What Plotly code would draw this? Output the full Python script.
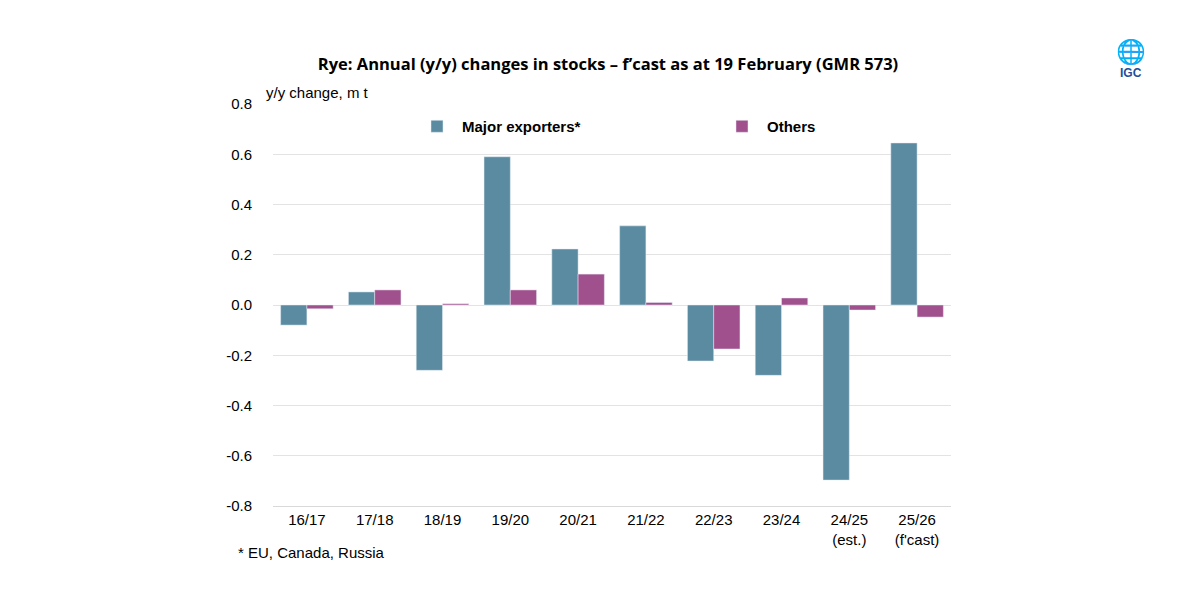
import plotly.graph_objects as go

categories = ["16/17", "17/18", "18/19", "19/20", "20/21", "21/22", "22/23", "23/24", "24/25<br>(est.)", "25/26<br>(f'cast)"]
major = [-0.08, 0.052, -0.26, 0.59, 0.223, 0.315, -0.223, -0.28, -0.697, 0.645]
others = [-0.015, 0.06, 0.005, 0.06, 0.123, 0.01, -0.175, 0.028, -0.02, -0.048]
ticks = [-0.8, -0.6, -0.4, -0.2, 0.0, 0.2, 0.4, 0.6, 0.8]
tick_text = ["-0.8", "-0.6", "-0.4", "-0.2", "0.0", "0.2", "0.4", "0.6", "0.8"]

fig = go.Figure()
fig.add_bar(x=categories, y=major, name="<b>Major exporters*</b>", marker_color="#5B8BA0")
fig.add_bar(x=categories, y=others, name="<b>Others</b>", marker_color="#A0508C")
fig.update_layout(
    width=1200, height=597, plot_bgcolor="white", paper_bgcolor="white",
    barmode="group", bargap=0.225, bargroupgap=0,
    font=dict(family="Liberation Sans, Arial", size=15, color="#000"),
    margin=dict(l=265, r=257, t=96, b=99),
    title=dict(text="<b>Rye: Annual (y/y) changes in stocks – f’cast as at 19 February (GMR 573)</b>",
               x=0.5, xanchor="center", y=0.915, font=dict(size=16.5, family="Open Sans, Liberation Sans")),
    legend=dict(orientation="h", x=0.205, xanchor="left", y=0.985, yanchor="top",
                font=dict(size=15), itemwidth=40, entrywidth=250, bgcolor="rgba(0,0,0,0)"),
    xaxis=dict(showline=True, linecolor="#d9d9d9", tickfont=dict(size=15), ticks=""),
    yaxis=dict(range=[-0.8, 0.8], tickvals=ticks, ticktext=tick_text, gridcolor="#e3e3e3",
               zeroline=False, tickfont=dict(size=15), ticklabelstandoff=20),
    annotations=[
        dict(text="y/y change, m t", x=-0.013, y=1.0, xref="paper", yref="paper", showarrow=False,
             xanchor="left", yanchor="bottom", yshift=1, font=dict(size=15)),
        dict(text="* EU, Canada, Russia", xref="paper", yref="paper", x=-0.055, y=-0.09, showarrow=False,
             xanchor="left", yanchor="top", font=dict(size=15)),
        dict(text="<b>IGC</b>", xref="paper", yref="paper", x=1.265, y=1.10, showarrow=False,
             xanchor="center", font=dict(size=12, color="#1F4E9A")),
        dict(text="🌐", xref="paper", yref="paper", x=1.265, y=1.17, showarrow=False,
             xanchor="center", font=dict(size=24, color="#1F4E9A")),
    ],
)
fig.write_html("out.html")
